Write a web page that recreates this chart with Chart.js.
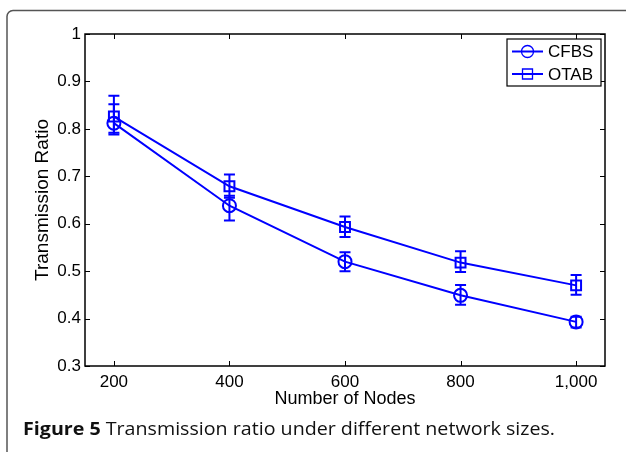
<!DOCTYPE html>
<html lang="en">
<head>
  <meta charset="UTF-8">
  <title>Transmission ratio under different network sizes</title>
  <script src="https://cdn.jsdelivr.net/npm/chart.js"></script>
  <style>
    html, body { margin: 0; padding: 0; background: #fff; }
    canvas { display: block; }
  </style>
</head>
<body>
  <canvas id="ratioChart" width="626" height="452"></canvas>

  <script>
    // values
    const nodes = [200, 400, 600, 800, 1000];
    const cfbs = [0.812, 0.638, 0.520, 0.449, 0.393];
    const cfbsLow = [0.788, 0.607, 0.500, 0.429, 0.381];
    const cfbsHigh = [0.852, 0.659, 0.540, 0.471, 0.404];
    const otab = [0.826, 0.679, 0.593, 0.518, 0.470];
    const otabLow = [0.792, 0.655, 0.572, 0.498, 0.450];
    const otabHigh = [0.870, 0.704, 0.615, 0.542, 0.492];
    const xTickValues = [200, 400, 600, 800, 1000];
    const xTickLabels = ['200', '400', '600', '800', '1,000'];
    const yTickValues = [0.3, 0.4, 0.5, 0.6, 0.7, 0.8, 0.9, 1];
    const yTickLabels = ['0.3', '0.4', '0.5', '0.6', '0.7', '0.8', '0.9', '1'];

    const BLUE = '#0000ff';
    const FONT = '"Liberation Sans", Arial, sans-serif';

    Chart.defaults.font.family = FONT;
    Chart.defaults.color = '#000';

    const toPoints = (ys) => nodes.map((x, i) => ({ x: x, y: ys[i] }));

    // vertical error bars with caps, placed through the chart scales
    const errorBars = {
      id: 'errorBars',
      afterDatasetsDraw(chart) {
        const ctx = chart.ctx;
        const xs = chart.scales.x, ys = chart.scales.y;
        const sets = [[cfbsLow, cfbsHigh], [otabLow, otabHigh]];
        ctx.save();
        ctx.strokeStyle = BLUE;
        ctx.lineWidth = 2;
        sets.forEach(([lo, hi]) => {
          nodes.forEach((n, i) => {
            const px = xs.getPixelForValue(n);
            const y1 = ys.getPixelForValue(lo[i]);
            const y2 = ys.getPixelForValue(hi[i]);
            ctx.beginPath();
            ctx.moveTo(px, y1); ctx.lineTo(px, y2);
            ctx.moveTo(px - 5.5, y1); ctx.lineTo(px + 5.5, y1);
            ctx.moveTo(px - 5.5, y2); ctx.lineTo(px + 5.5, y2);
            ctx.stroke();
          });
        });
        ctx.restore();
      }
    };

    // matlab style box with inward ticks on all four sides
    const axisBox = {
      id: 'axisBox',
      afterDraw(chart) {
        const ctx = chart.ctx;
        const a = chart.chartArea;
        const xs = chart.scales.x, ys = chart.scales.y;
        ctx.save();
        ctx.strokeStyle = '#000';
        ctx.lineWidth = 1.5;
        ctx.strokeRect(a.left, a.top, a.right - a.left, a.bottom - a.top);
        ctx.lineWidth = 1;
        ctx.beginPath();
        xTickValues.forEach(v => {
          const px = Math.round(xs.getPixelForValue(v)) + 0.5;
          ctx.moveTo(px, a.bottom); ctx.lineTo(px, a.bottom - 5);
          ctx.moveTo(px, a.top); ctx.lineTo(px, a.top + 5);
        });
        yTickValues.forEach(v => {
          const py = Math.round(ys.getPixelForValue(v)) + 0.5;
          ctx.moveTo(a.left, py); ctx.lineTo(a.left + 5, py);
          ctx.moveTo(a.right, py); ctx.lineTo(a.right - 5, py);
        });
        ctx.stroke();
        ctx.restore();
      }
    };

    // legend box in the upper right corner of the axes
    const boxLegend = {
      id: 'boxLegend',
      afterDraw(chart) {
        const ctx = chart.ctx;
        const a = chart.chartArea;
        const bx = a.right - 98, by = a.top + 5, bw = 94, bh = 47;
        ctx.save();
        ctx.fillStyle = '#fff';
        ctx.fillRect(bx, by, bw, bh);
        ctx.strokeStyle = '#000';
        ctx.lineWidth = 1.2;
        ctx.strokeRect(bx, by, bw, bh);
        chart.data.datasets.forEach((ds, i) => {
          const cy = by + 12.5 + i * 22.5;
          ctx.strokeStyle = BLUE;
          ctx.lineWidth = 2;
          ctx.beginPath();
          ctx.moveTo(bx + 5, cy); ctx.lineTo(bx + 36, cy);
          ctx.stroke();
          ctx.lineWidth = 1.3;
          ctx.beginPath();
          if (ds.pointStyle === 'circle') {
            ctx.arc(bx + 20.5, cy, 6, 0, Math.PI * 2);
          } else {
            ctx.rect(bx + 15.5, cy - 5, 10, 10);
          }
          ctx.stroke();
          ctx.fillStyle = '#000';
          ctx.font = '17px ' + FONT;
          ctx.textBaseline = 'middle';
          ctx.fillText(ds.label, bx + 41, cy + 1);
        });
        ctx.restore();
      }
    };

    // journal frame and figure caption
    const frameCaption = {
      id: 'frameCaption',
      beforeDraw(chart) {
        const ctx = chart.ctx;
        ctx.save();
        ctx.strokeStyle = '#555';
        ctx.lineWidth = 1.5;
        ctx.beginPath();
        ctx.moveTo(7, 452);
        ctx.lineTo(7, 16);
        ctx.arcTo(7, 10.5, 13, 10.5, 6);
        ctx.lineTo(626, 10.5);
        ctx.stroke();

        const bold = 'Figure 5';
        const rest = ' Transmission ratio under different network sizes.';
        const fb = 'bold 18px "Open Sans", sans-serif';
        const fr = '18px "Open Sans", sans-serif';
        ctx.font = fb;
        const wb = ctx.measureText(bold).width;
        ctx.font = fr;
        const wr = ctx.measureText(rest).width;
        const k = 532 / (wb + wr);
        ctx.translate(23, 435);
        ctx.scale(k, 1);
        ctx.fillStyle = '#111';
        ctx.textBaseline = 'alphabetic';
        ctx.font = fb;
        ctx.fillText(bold, 0, 0);
        ctx.font = fr;
        ctx.fillText(rest, wb, 0);
        ctx.restore();
      }
    };

    new Chart(document.getElementById('ratioChart'), {
      type: 'line',
      data: {
        datasets: [
          {
            label: 'CFBS',
            data: toPoints(cfbs),
            borderColor: BLUE,
            borderWidth: 2,
            pointStyle: 'circle',
            pointRadius: 6.5,
            pointBorderWidth: 2,
            pointBorderColor: BLUE,
            pointBackgroundColor: 'rgba(0,0,0,0)',
            tension: 0
          },
          {
            label: 'OTAB',
            data: toPoints(otab),
            borderColor: BLUE,
            borderWidth: 2,
            pointStyle: 'rect',
            pointRadius: 7,
            pointBorderWidth: 2,
            pointBorderColor: BLUE,
            pointBackgroundColor: 'rgba(0,0,0,0)',
            tension: 0
          }
        ]
      },
      options: {
        responsive: false,
        animation: false,
        events: [],
        layout: { padding: { top: 34, right: 21, left: 0, bottom: 0 } },
        plugins: {
          legend: { display: false },
          tooltip: { enabled: false }
        },
        scales: {
          x: {
            type: 'linear',
            min: 150,
            max: 1050,
            afterFit(scale) { scale.height = 86; },
            afterBuildTicks(scale) { scale.ticks = xTickValues.map(v => ({ value: v })); },
            grid: { display: false, drawTicks: false },
            border: { display: false },
            ticks: {
              padding: 6,
              maxRotation: 0,
              font: { size: 17 },
              callback: (v) => xTickLabels[xTickValues.indexOf(v)]
            },
            title: {
              display: true,
              text: 'Number of Nodes',
              font: { size: 18 },
              padding: { top: 0, bottom: 42 }
            }
          },
          y: {
            min: 0.3,
            max: 1,
            afterFit(scale) { scale.width = 85; },
            afterBuildTicks(scale) { scale.ticks = yTickValues.map(v => ({ value: v })); },
            grid: { display: false, drawTicks: false },
            border: { display: false },
            ticks: {
              padding: 4,
              font: { size: 17 },
              callback: (v) => yTickLabels[yTickValues.findIndex(t => Math.abs(t - v) < 1e-9)]
            },
            title: {
              display: true,
              text: 'Transmission Ratio',
              font: { size: 19 },
              padding: { top: 31, bottom: 0 }
            }
          }
        }
      },
      plugins: [frameCaption, errorBars, axisBox, boxLegend]
    });
  </script>
</body>
</html>
